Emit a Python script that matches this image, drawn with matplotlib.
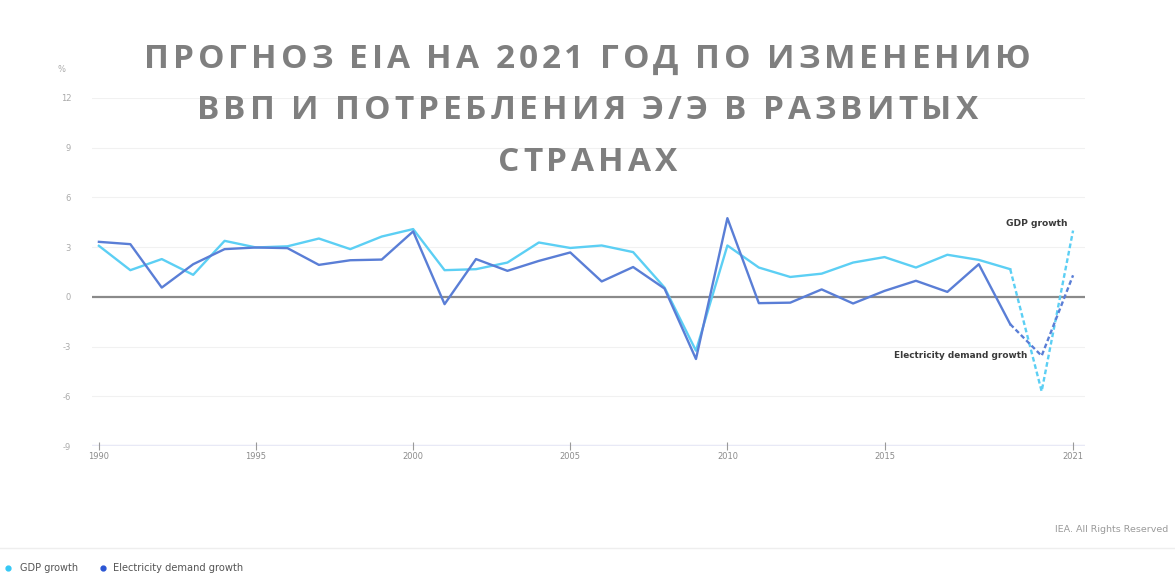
import numpy as np
import matplotlib
matplotlib.use('Agg')
import matplotlib.pyplot as plt

years = list(range(1990, 2022))
gdp = [3.08, 1.61, 2.28, 1.33, 3.38, 2.98, 3.05, 3.52, 2.88, 3.64,
       4.09, 1.61, 1.67, 2.07, 3.28, 2.95, 3.10, 2.70, 0.56, -3.25,
       3.10, 1.77, 1.20, 1.40, 2.07, 2.40, 1.77, 2.54, 2.23, 1.67,
       -5.70, 4.00]
elec = [3.32, 3.18, 0.56, 1.97, 2.88, 2.98, 2.94, 1.93, 2.21, 2.25,
        3.95, -0.44, 2.28, 1.57, 2.17, 2.68, 0.93, 1.80, 0.50, -3.75,
        4.75, -0.38, -0.35, 0.45, -0.40, 0.36, 0.97, 0.30, 1.97, -1.65,
        -3.56, 1.30]
forecast_from = 2019
yticks = [12, 9, 6, 3, 0, -3, -6, -9]
xticks = [1990, 1995, 2000, 2005, 2010, 2015, 2021]
title_lines = ['ПРОГНОЗ EIA НА 2021 ГОД ПО ИЗМЕНЕНИЮ',
               'ВВП И ПОТРЕБЛЕНИЯ Э/Э В РАЗВИТЫХ',
               'СТРАНАХ']

GDP_C = '#5ccff4'
ELEC_C = '#5a7ed6'
W, H = 1175, 578

fig = plt.figure(figsize=(W / 100, H / 100), dpi=100)
ax = fig.add_axes([92 / W, (H - 446) / H, (1085 - 92) / W, (446 - 98) / H])
ax.set_xlim(1989.78, 2021.38)
ax.set_ylim(-9, 12)

k = years.index(forecast_from)
ax.plot(years[:k + 1], gdp[:k + 1], color=GDP_C, lw=1.7, zorder=3)
ax.plot(years[k:], gdp[k:], color=GDP_C, lw=1.7, ls=(0, (2.0, 1.2)), zorder=3)
ax.plot(years[:k + 1], elec[:k + 1], color=ELEC_C, lw=1.7, zorder=4)
ax.plot(years[k:], elec[k:], color=ELEC_C, lw=1.7, ls=(0, (2.0, 1.2)), zorder=4)

for v in yticks:
    if v == 0:
        ax.axhline(v, color='#8a8a8a', lw=1.6, zorder=2)
    elif v == -9:
        ax.axhline(v, color='#e8e9f6', lw=2.5, zorder=1)
    else:
        ax.axhline(v, color='#f1f1f1', lw=0.8, zorder=1)

for s in ax.spines.values():
    s.set_visible(False)
ax.set_xticks(xticks)
ax.set_xticklabels([str(x) for x in xticks], fontsize=6, color='#8c8c8c')
ax.tick_params(axis='x', length=6, width=0.8, color='#9a9a9a', direction='inout', pad=1)
ax.set_yticks(yticks)
ax.set_yticklabels([str(v) for v in yticks], fontsize=6, color='#aaaaaa')
ax.tick_params(axis='y', length=0, pad=15)

fig.text(62 / W, 1 - 70 / H, '%', fontsize=6, color='#aaaaaa', ha='center', va='center')

ax.annotate('GDP growth', xy=(1068 / W, 1 - 224 / H), xycoords='figure fraction',
            ha='right', va='center', fontsize=6.6, fontweight='bold', color='#3a3a3a')
ax.annotate('Electricity demand growth', xy=(1027 / W, 1 - 355 / H), xycoords='figure fraction',
            ha='right', va='center', fontsize=6.4, fontweight='bold', color='#3a3a3a')

fig.text(1168 / W, 1 - 530 / H, 'IEA. All Rights Reserved', fontsize=6.8, color='#9a9a9a',
         ha='right', va='center')
fig.add_artist(plt.Line2D([0, 1], [1 - 548 / H, 1 - 548 / H], color='#eeeeee', lw=1))
fig.add_artist(plt.Line2D([8 / W], [1 - 568 / H], marker='o', ms=3.5, color='#35c8f5', lw=0))
fig.text(20 / W, 1 - 568 / H, 'GDP growth', fontsize=7, color='#555555', va='center')
fig.add_artist(plt.Line2D([103 / W], [1 - 568 / H], marker='o', ms=3.5, color='#2a55d4', lw=0))
fig.text(113 / W, 1 - 568 / H, 'Electricity demand growth', fontsize=7.1, color='#555555', va='center')

# title with letter spacing, placed char by char
renderer = fig.canvas.get_renderer()
baselines = [68, 119, 171]
target_w = 1030 - 143
tfont = dict(fontsize=24, fontweight='bold', color='#7f7f7f', family='Open Sans')


def char_widths(line):
    ws = []
    for ch in line:
        t = fig.text(0, 0, ch if ch != ' ' else '\u00a0', **tfont)
        ws.append(t.get_window_extent(renderer).width)
        t.remove()
    return ws


w0 = char_widths(title_lines[0])
track = (target_w - sum(w0)) / (len(w0) - 1)
for line, by in zip(title_lines, baselines):
    ws = char_widths(line)
    total = sum(ws) + track * (len(ws) - 1)
    x = W / 2 - total / 2
    for ch, w in zip(line, ws):
        fig.text(x / W, 1 - by / H, ch, ha='left', va='baseline', **tfont)
        x += w + track

fig.savefig('out.png', dpi=100)
